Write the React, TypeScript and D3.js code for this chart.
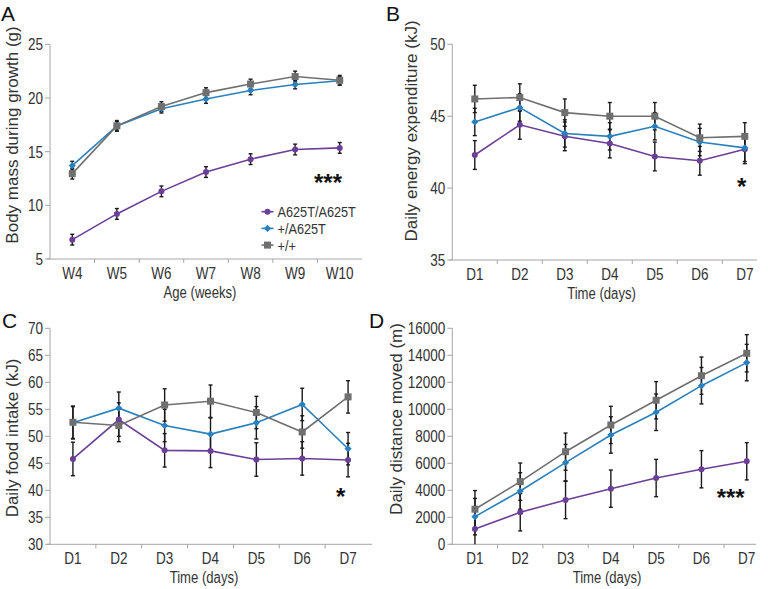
import React from "react";
import * as d3 from "d3";

const weeks = ["W4", "W5", "W6", "W7", "W8", "W9", "W10"];
const days = ["D1", "D2", "D3", "D4", "D5", "D6", "D7"];
const seriesNames = ["A625T/A625T", "+/A625T", "+/+"];

// Panel A: body mass (g)
const massHom = [6.8, 9.2, 11.3, 13.1, 14.3, 15.2, 15.35];
const massHet = [13.7, 17.4, 19.0, 19.9, 20.7, 21.25, 21.6];
const massWt = [12.95, 17.4, 19.2, 20.5, 21.3, 22.0, 21.65];
const massHomErr = [0.5, 0.5, 0.5, 0.5, 0.5, 0.5, 0.5];
const massHetErr = [0.4, 0.4, 0.4, 0.4, 0.4, 0.4, 0.4];
const massWtErr = [0.5, 0.5, 0.45, 0.45, 0.45, 0.5, 0.45];
const massTicks = [5, 10, 15, 20, 25];

// Panel B: energy expenditure (kJ)
const energyHom = [42.3, 44.4, 43.6, 43.1, 42.2, 41.9, 42.7];
const energyHet = [44.6, 45.6, 43.8, 43.6, 44.3, 43.2, 42.8];
const energyWt = [46.2, 46.3, 45.25, 45.0, 45.0, 43.5, 43.6];
const energyHomErr = [1.0, 1.0, 1.0, 1.0, 1.0, 1.0, 1.0];
const energyHetErr = [0.95, 0.95, 0.95, 0.95, 0.95, 0.95, 0.95];
const energyWtErr = [0.95, 0.95, 0.95, 0.95, 0.95, 0.95, 0.95];
const energyTicks = [35, 40, 45, 50];

// Panel C: food intake (kJ)
const foodHom = [45.8, 53.1, 47.4, 47.3, 45.7, 45.9, 45.6];
const foodHet = [52.5, 55.2, 52.0, 50.4, 52.5, 55.9, 47.7];
const foodWt = [52.6, 52.0, 55.8, 56.5, 54.4, 50.8, 57.3];
const foodHomErr = [3.1, 3.1, 3.1, 3.1, 3.1, 3.1, 3.1];
const foodHetErr = [3.0, 3.0, 3.0, 3.0, 3.0, 3.0, 3.0];
const foodWtErr = [3.0, 3.0, 3.0, 3.0, 3.0, 3.0, 3.0];
const foodTicks = [30, 35, 40, 45, 50, 55, 60, 65, 70];

// Panel D: distance moved (m)
const distHom = [1140, 2370, 3280, 4120, 4910, 5560, 6150];
const distHet = [2050, 3950, 6050, 8100, 9780, 11750, 13460];
const distWt = [2600, 4640, 6860, 8840, 10670, 12490, 14150];
const distHomErr = [1400, 1380, 1380, 1380, 1380, 1380, 1380];
const distHetErr = [1350, 1350, 1350, 1350, 1350, 1350, 1350];
const distWtErr = [1380, 1380, 1380, 1380, 1380, 1380, 1380];
const distTicks = [0, 2000, 4000, 6000, 8000, 10000, 12000, 14000, 16000];

const PURPLE = "#6b3f98";
const BLUE = "#2a80bd";
const GRAY = "#6f6f6f";
const AXIS = "#a6a6a6";
const TEXT = "#333333";
const SANS = "'Liberation Sans', Arial, sans-serif";
const NARROW_SCALE = 0.82;

type Kind = "circle" | "diamond" | "square";
const kinds: Kind[] = ["circle", "diamond", "square"];
const colors = [PURPLE, BLUE, GRAY];

function NText({
  x,
  y,
  size,
  anchor,
  children,
  dy,
}: {
  x: number;
  y: number;
  size: number;
  anchor?: "start" | "middle" | "end";
  dy?: string;
  children: React.ReactNode;
}) {
  return (
    <text
      transform={`translate(${x},${y}) scale(${NARROW_SCALE},1)`}
      dy={dy}
      textAnchor={anchor || "start"}
      fontSize={size}
      fontFamily={SANS}
      fill={TEXT}
    >
      {children}
    </text>
  );
}

function Marker({ kind, x, y, color }: { kind: Kind; x: number; y: number; color: string }) {
  if (kind === "circle") return <circle cx={x} cy={y} r={3} fill={color} />;
  if (kind === "diamond")
    return <path d={`M${x},${y - 3.6}L${x + 3.6},${y}L${x},${y + 3.6}L${x - 3.6},${y}Z`} fill={color} />;
  return <rect x={x - 3.5} y={y - 3.5} width={7} height={7} fill={color} />;
}

interface PanelProps {
  cats: string[];
  x0: number;
  x1: number;
  axisEnd: number;
  yTop: number;
  yBottom: number;
  domain: [number, number];
  ticks: number[];
  data: number[][];
  errs: number[][];
  yLabel: string;
  yLabelX: number;
  yLabelY: number;
  xLabel: string;
  xLabelX: number;
  stars: string;
  starX: number;
  starY: number;
  letter: string;
  letterX: number;
  letterY: number;
}

function Panel(p: PanelProps) {
  const x = d3.scaleBand<string>().domain(p.cats).range([p.x0, p.x1]);
  const y = d3.scaleLinear().domain(p.domain).range([p.yBottom, p.yTop]);
  const cx = (c: string) => (x(c) as number) + x.bandwidth() / 2;
  const line = d3
    .line<number>()
    .x((_, i) => cx(p.cats[i]))
    .y((v) => y(v));
  const order = [0, 1, 2];
  const boundaries = p.cats.slice(1).map((c) => x(c) as number);
  return (
    <g>
      <text x={p.letterX} y={p.letterY} fontSize={21} fontFamily={SANS} fill="#111">
        {p.letter}
      </text>
      {/* y axis */}
      <line x1={p.x0} x2={p.x0} y1={p.yTop} y2={p.yBottom} stroke={AXIS} strokeWidth={1} />
      {p.ticks.map((t) => (
        <g key={t}>
          <line x1={p.x0 - 5} x2={p.x0} y1={y(t)} y2={y(t)} stroke={AXIS} strokeWidth={1} />
          <NText x={p.x0 - 7} y={y(t)} dy="0.36em" anchor="end" size={16.5}>
            {t}
          </NText>
        </g>
      ))}
      {/* x axis */}
      <line x1={p.x0 - 3} x2={p.axisEnd} y1={p.yBottom} y2={p.yBottom} stroke={AXIS} strokeWidth={1} />
      {boundaries.map((b, i) => (
        <line key={i} x1={b} x2={b} y1={p.yBottom} y2={p.yBottom + 4} stroke={AXIS} strokeWidth={1} />
      ))}
      {p.cats.map((c) => (
        <NText key={c} x={cx(c)} y={p.yBottom + 20} anchor="middle" size={16.5}>
          {c}
        </NText>
      ))}
      <NText x={p.xLabelX} y={p.yBottom + 38.5} anchor="middle" size={16}>
        {p.xLabel}
      </NText>
      <text
        transform={`translate(${p.yLabelX},${p.yLabelY}) rotate(-90)`}
        dy="0.33em"
        textAnchor="middle"
        fontSize={17}
        fontFamily={SANS}
        fill={TEXT}
      >
        {p.yLabel}
      </text>
      {/* error bars */}
      {order.map((s) =>
        p.data[s].map((v, i) => {
          const xx = cx(p.cats[i]);
          const lo = Math.max(p.domain[0], v - p.errs[s][i]);
          const hi = v + p.errs[s][i];
          return (
            <g key={`e${s}-${i}`} stroke="#1a1a1a" strokeWidth={1.4}>
              <line x1={xx} x2={xx} y1={y(lo)} y2={y(hi)} />
              <line x1={xx - 2} x2={xx + 2} y1={y(hi)} y2={y(hi)} />
              {v - p.errs[s][i] >= p.domain[0] && <line x1={xx - 2} x2={xx + 2} y1={y(lo)} y2={y(lo)} />}
            </g>
          );
        })
      )}
      {/* lines */}
      {order.map((s) => (
        <path key={`l${s}`} d={line(p.data[s]) || ""} fill="none" stroke={colors[s]} strokeWidth={1.6} />
      ))}
      {order.map((s) =>
        p.data[s].map((v, i) => (
          <Marker key={`m${s}-${i}`} kind={kinds[s]} x={cx(p.cats[i])} y={y(v)} color={colors[s]} />
        ))
      )}
      <text
        x={p.starX}
        y={p.starY}
        textAnchor="middle"
        fontSize={24}
        fontWeight="bold"
        fontFamily={SANS}
        fill="#111"
        dy="0.55em"
      >
        {p.stars}
      </text>
    </g>
  );
}

function Legend({ x, y }: { x: number; y: number }) {
  return (
    <g>
      {seriesNames.map((n, i) => (
        <g key={n} transform={`translate(${x},${y + i * 16.7})`}>
          <line x1={-6} x2={6} y1={0} y2={0} stroke={colors[i]} strokeWidth={1.6} />
          <Marker kind={kinds[i]} x={0} y={0} color={colors[i]} />
          <NText x={10} y={0} dy="0.36em" size={15.5}>
            {n}
          </NText>
        </g>
      ))}
    </g>
  );
}

export default function App() {
  return (
    <svg
      width={768}
      height={589}
      style={{ position: "absolute", left: 0, top: 0, background: "#fff" }}
    >
      <rect width={768} height={589} fill="#fff" />
      <Panel
        cats={weeks}
        x0={50}
        x1={362}
        axisEnd={362}
        yTop={44.3}
        yBottom={259}
        domain={[5, 25]}
        ticks={massTicks}
        data={[massHom, massHet, massWt]}
        errs={[massHomErr, massHetErr, massWtErr]}
        yLabel="Body mass during growth (g)"
        yLabelX={12}
        yLabelY={135}
        xLabel="Age (weeks)"
        xLabelX={200}
        stars="***"
        starX={328}
        starY={178}
        letter="A"
        letterX={1}
        letterY={21}
      />
      <Legend x={267.5} y={211.7} />
      <Panel
        cats={days}
        x0={452.3}
        x1={767.3}
        axisEnd={757}
        yTop={44.3}
        yBottom={260}
        domain={[35, 50]}
        ticks={energyTicks}
        data={[energyHom, energyHet, energyWt]}
        errs={[energyHomErr, energyHetErr, energyWtErr]}
        yLabel="Daily energy expenditure (kJ)"
        yLabelX={411.5}
        yLabelY={131}
        xLabel="Time (days)"
        xLabelX={601.5}
        stars="*"
        starX={741.7}
        starY={181.7}
        letter="B"
        letterX={386}
        letterY={21}
      />
      <Panel
        cats={days}
        x0={50}
        x1={371}
        axisEnd={372}
        yTop={328.3}
        yBottom={544.3}
        domain={[30, 70]}
        ticks={foodTicks}
        data={[foodHom, foodHet, foodWt]}
        errs={[foodHomErr, foodHetErr, foodWtErr]}
        yLabel="Daily food intake (kJ)"
        yLabelX={12.5}
        yLabelY={438}
        xLabel="Time (days)"
        xLabelX={204}
        stars="*"
        starX={340.7}
        starY={491.7}
        letter="C"
        letterX={2}
        letterY={328}
      />
      <Panel
        cats={days}
        x0={452.3}
        x1={769.4}
        axisEnd={756}
        yTop={328.3}
        yBottom={544.3}
        domain={[0, 16000]}
        ticks={distTicks}
        data={[distHom, distHet, distWt]}
        errs={[distHomErr, distHetErr, distWtErr]}
        yLabel="Daily distance moved (m)"
        yLabelX={396.5}
        yLabelY={419}
        xLabel="Time (days)"
        xLabelX={607}
        stars="***"
        starX={730.7}
        starY={492.3}
        letter="D"
        letterX={369}
        letterY={328}
      />
    </svg>
  );
}
